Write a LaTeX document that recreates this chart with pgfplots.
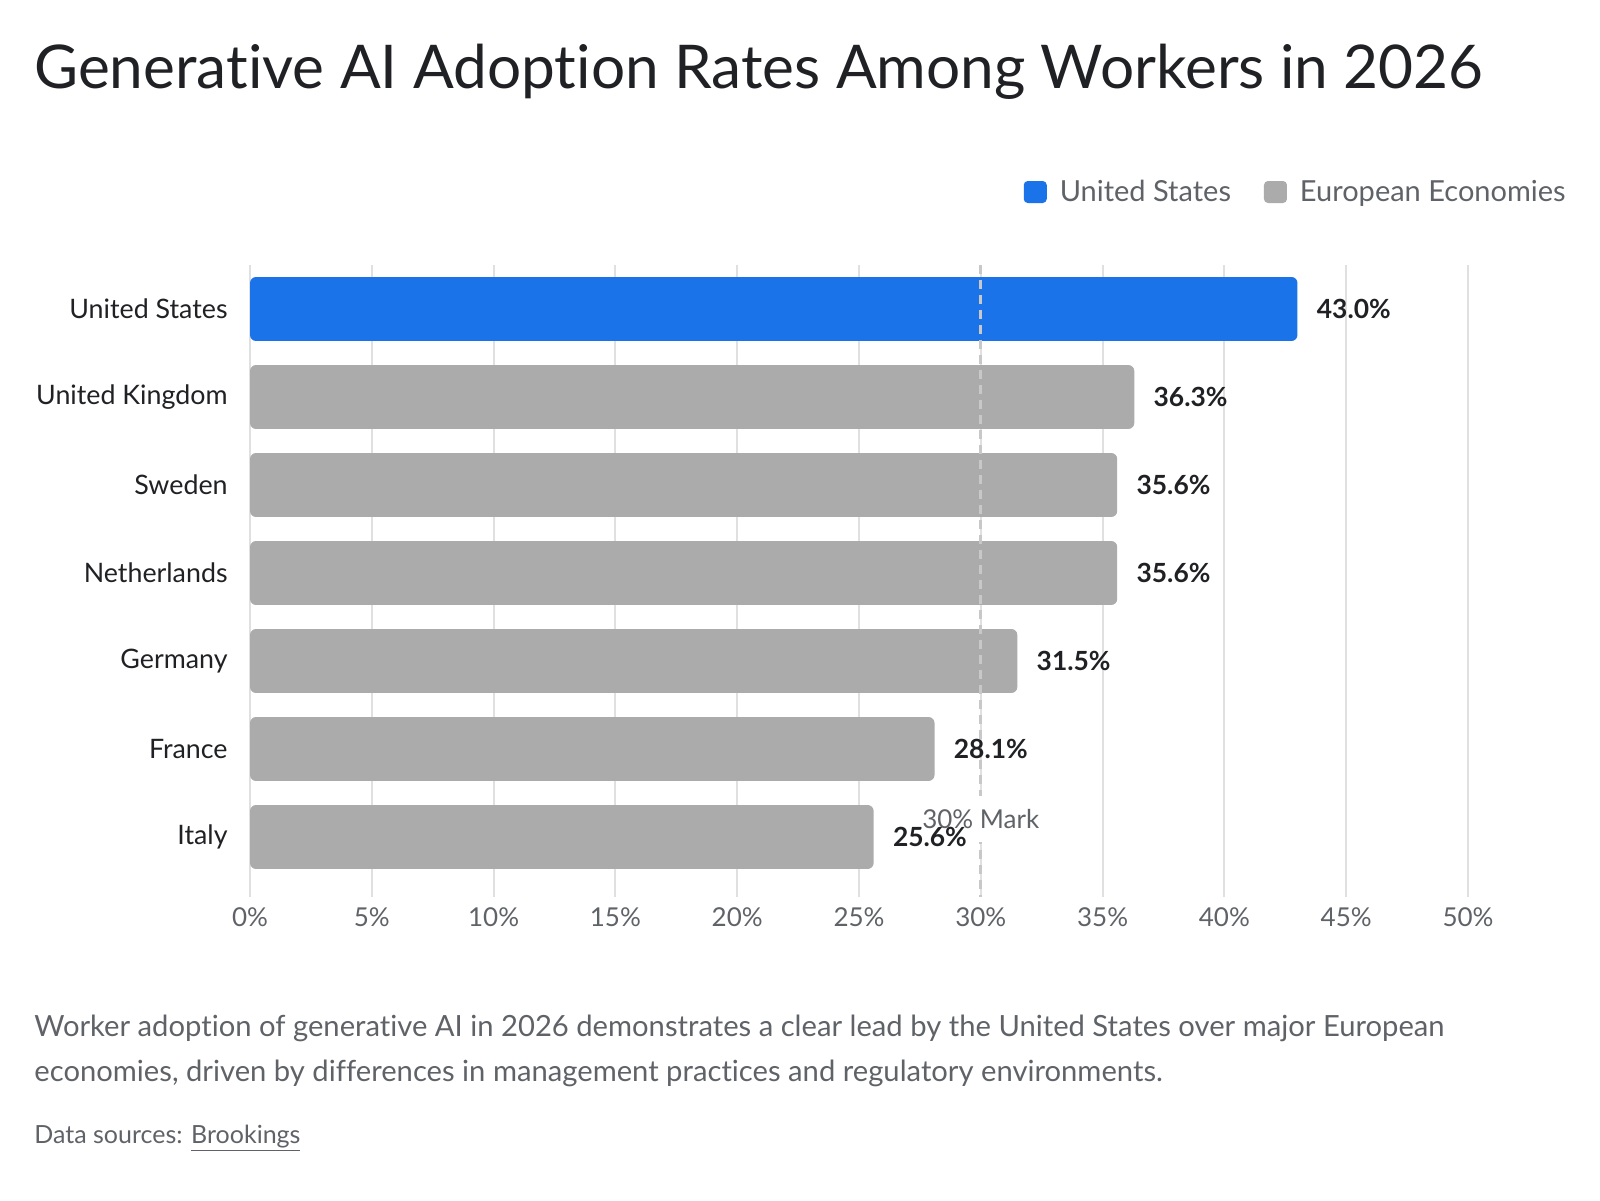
\documentclass[border=0pt]{standalone}
\usepackage{pgfplots}
\pgfplotsset{compat=1.18}
\usepackage{fontspec}
\setmainfont{Lato}[Ligatures=NoCommon]
\definecolor{usblue}{HTML}{1A73E8}
\definecolor{eugray}{HTML}{ABABAB}
\definecolor{gridc}{HTML}{E0E0E0}
\definecolor{txt}{HTML}{202124}
\definecolor{sub}{HTML}{5F6368}
\definecolor{dashc}{HTML}{C8C8C8}
\begin{document}
\begin{tikzpicture}[x=0.5pt,y=0.5pt]
\path[use as bounding box] (0,0) rectangle (1600,1200);
\node[anchor=base west, inner sep=0pt, text=txt, font=\fontsize{30.15}{33}\selectfont] at (34,1111) {Generative AI Adoption Rates Among Workers in 2026};
\node[anchor=base west, inner sep=0pt, text=sub, font=\fontsize{14.6}{18}\selectfont] at (34,164) {Worker adoption of generative AI in 2026 demonstrates a clear lead by the United States over major European};
\node[anchor=base west, inner sep=0pt, text=sub, font=\fontsize{14.6}{18}\selectfont] at (34,119) {economies, driven by differences in management practices and regulatory environments.};
\node[anchor=base west, inner sep=0pt, text=sub, font=\fontsize{12.5}{15}\selectfont] at (34,57) {Data sources: \underline{Brookings}};
\begin{axis}[
  scale only axis, width=609pt, height=316pt,
  anchor=south west, at={(125pt,151.5pt)},
  xmin=0, xmax=50, ymin=-0.5, ymax=6.682, y dir=reverse,
  bar width=0.727,
  xtick={0,5,...,50},
  xticklabels={0\%,5\%,10\%,15\%,20\%,25\%,30\%,35\%,40\%,45\%,50\%},
  ytick={0,...,6},
  yticklabels={United States,United Kingdom,Sweden,Netherlands,Germany,France,Italy},
  axis line style={draw=none}, major tick length=0pt,
  xmajorgrids, grid style={gridc, line width=1pt},
  xticklabel style={text=sub, inner sep=0pt, anchor=north, yshift=-5pt, font=\fontsize{13}{15}\selectfont},
  yticklabel style={text=txt, inner sep=0pt, anchor=east, xshift=-11pt, font=\fontsize{13.4}{15}\selectfont},
  legend columns=2,
  legend style={draw=none, fill=none, inner sep=0pt, at={(1.0805,1.1155)}, anchor=east,
    nodes={inner sep=0pt}, text=sub, font=\fontsize{14.5}{16}\selectfont,
    /tikz/every odd column/.append style={column sep=6.5pt},
    /tikz/every even column/.append style={column sep=16.5pt}},
  legend image code/.code={\fill[#1, rounded corners=2pt] (0pt,-5.5pt) rectangle (11.5pt,5.5pt);},
]
\addplot[xbar, bar shift=0pt, fill=usblue, draw=none, rounded corners=3pt] coordinates {(43.0,0)};
\addlegendentry{United States}
\addplot[xbar, bar shift=0pt, fill=eugray, draw=none, rounded corners=3pt] coordinates {(36.3,1) (35.6,2) (35.6,3) (31.5,4) (28.1,5) (25.6,6)};
\addlegendentry{European Economies}
\draw[dashc, line width=1.5pt, dash pattern=on 4.5pt off 3pt] (axis cs:30,-0.5) -- (axis cs:30,6.682);
\node[fill=white, text=sub, inner xsep=1pt, inner ysep=0pt, minimum height=23pt, font=\fontsize{13}{15}\selectfont] at (axis cs:30,5.795) {30\% Mark};
\addplot[forget plot, xbar, bar shift=0pt, draw=none, fill=none, point meta=x,
  nodes near coords={\pgfmathprintnumber[fixed,fixed zerofill,precision=1,assume math mode=true]{\pgfplotspointmeta}\%},
  nodes near coords style={anchor=west, inner sep=0pt, xshift=9.5pt, text=txt, font=\bfseries\fontsize{13.2}{15}\selectfont}]
  coordinates {(43.0,0) (36.3,1) (35.6,2) (35.6,3) (31.5,4) (28.1,5) (25.6,6)};
\end{axis}
\end{tikzpicture}
\end{document}
